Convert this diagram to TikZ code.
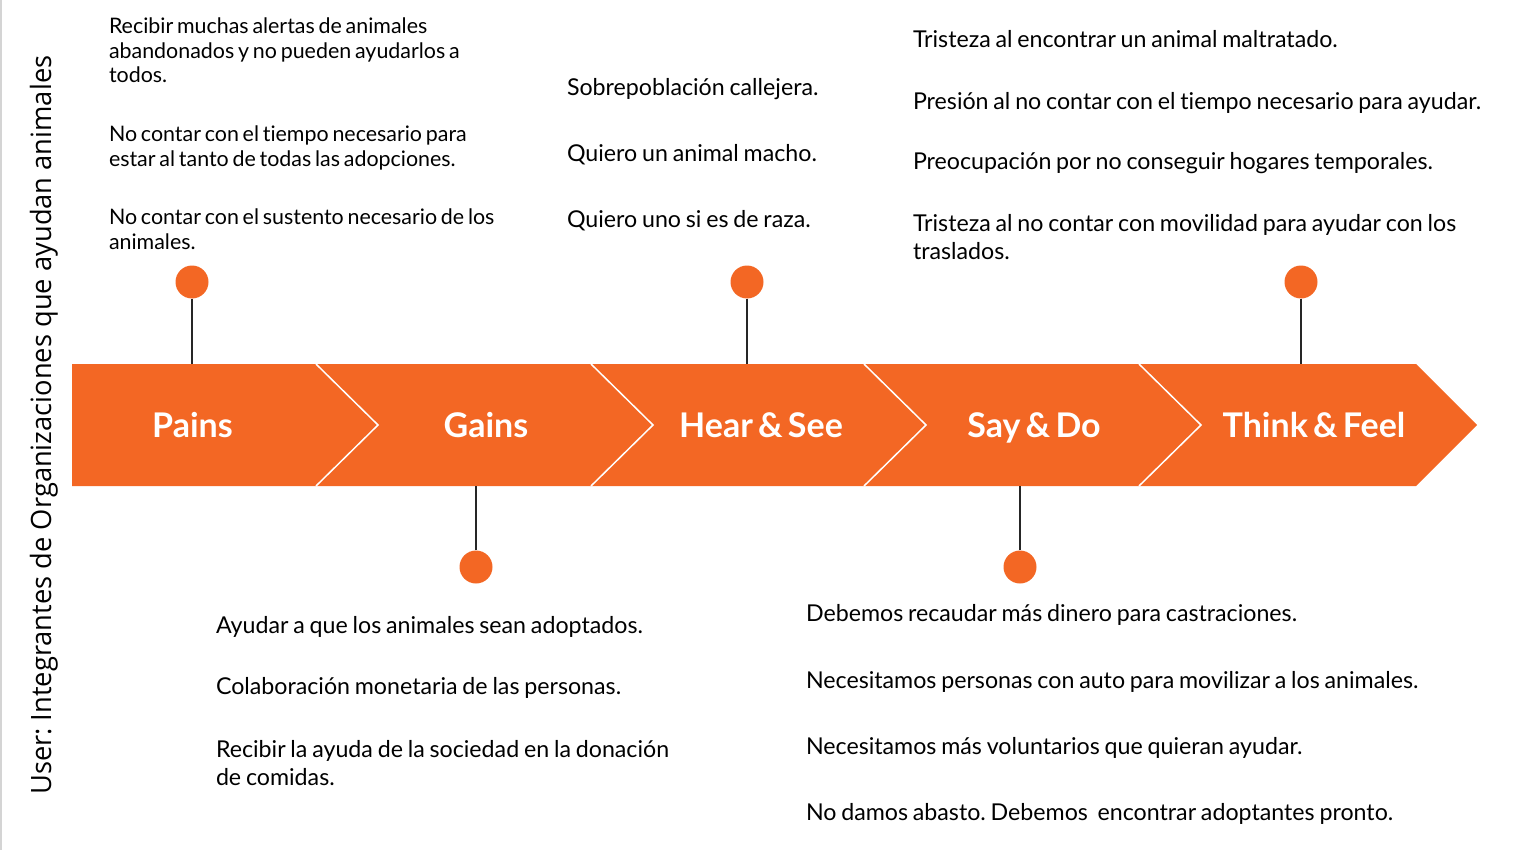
\documentclass[tikz,border=0pt]{standalone}
\usepackage{fontspec}
\setmainfont{Lato}[Ligatures=NoCommon]
\newfontfamily\vfont{Open Sans}
\definecolor{brand}{HTML}{F36724}
\definecolor{edge}{HTML}{D4D4D4}
\frenchspacing
\newcommand\myfontA{\fontsize{21.4}{24.5}\selectfont\spaceskip=3.8pt\relax}
\newcommand\myfontB{\fontsize{23.2}{28}\selectfont\spaceskip=4.8pt\relax}
\newcommand\myfontL{\bfseries\fontsize{34}{40}\selectfont\spaceskip=5.2pt\relax}
\begin{document}
\begin{tikzpicture}[x=1pt,y=-1pt,
  txt/.style={anchor=base west, inner sep=0pt, outer sep=0pt, align=flush left, text width=640pt},
  fa/.style={font=\myfontA},
  fb/.style={font=\myfontB},
  lab/.style={text=white, font=\myfontL, inner sep=0pt, anchor=base},
  pin/.style={circle, fill=brand, minimum size=33pt, inner sep=0pt},
  stem/.style={draw=black!85, line width=1.5pt},
  sep/.style={draw=white, line width=1.5pt}]
\useasboundingbox (0,0) rectangle (1514,850);
\draw[edge, line width=2pt] (1,0) -- (1,850);
% band
\fill[brand] (72,364) -- (1416,364) -- (1477,425) -- (1416,486) -- (72,486) -- cycle;
\foreach \x in {316,591,864,1139}{
  \draw[sep] (\x,364) -- (\x+62,425) -- (\x,486);
}
% labels
\node[lab] (pains) at (192.5,437) {Pains};
\node[lab] (gains) at (486,437) {Gains};
\node[lab] (hear) at (761,437) {Hear \& See};
\node[lab] (say) at (1034,437) {Say \& Do};
\node[lab] (think) at (1314,437) {Think \& Feel};
% pins
\node[pin] (p1) at (192,282) {};
\node[pin] (p2) at (476,567) {};
\node[pin] (p3) at (747,282) {};
\node[pin] (p4) at (1020,567) {};
\node[pin] (p5) at (1301,282) {};
\coordinate (b1) at (192,364);
\coordinate (b2) at (476,486);
\coordinate (b3) at (747,364);
\coordinate (b4) at (1020,486);
\coordinate (b5) at (1301,364);
\draw[stem] (p1) -- (b1);
\draw[stem] (p2) -- (b2);
\draw[stem] (p3) -- (b3);
\draw[stem] (p4) -- (b4);
\draw[stem] (p5) -- (b5);
% vertical title
\node[rotate=90, anchor=base west, inner sep=0pt] (user) at (51,795)
  {\vfont\fontsize{28}{30}\selectfont\scalebox{0.975}[1]{User: Integrantes de Organizaciones que ayudan animales}};
% Pains texts
\node[txt, fa] (a1) at (109,34) {Recibir muchas alertas de animales\\abandonados y no pueden ayudarlos a\\todos.};
\node[txt, fa] (a2) at (109,142) {No contar con el tiempo necesario para\\estar al tanto de todas las adopciones.};
\node[txt, fa] (a3) at (109,225) {No contar con el sustento necesario de los\\animales.};
% Hear & See texts
\node[txt, fb] (h1) at (567,96) {Sobrepoblación callejera.};
\node[txt, fb] (h2) at (567,162) {Quiero un animal macho.};
\node[txt, fb] (h3) at (567,228) {Quiero uno si es de raza.};
% Think & Feel texts
\node[txt, fb] (t1) at (913,47.5) {Tristeza al encontrar un animal maltratado.};
\node[txt, fb] (t2) at (913,110) {Presión al no contar con el tiempo necesario para ayudar.};
\node[txt, fb] (t3) at (913,170) {Preocupación por no conseguir hogares temporales.};
\node[txt, fb] (t4) at (913,232) {Tristeza al no contar con movilidad para ayudar con los\\traslados.};
% Gains texts
\node[txt, fb] (g1) at (216,633) {Ayudar a que los animales sean adoptados.};
\node[txt, fb] (g2) at (216,694) {Colaboración monetaria de las personas.};
\node[txt, fb] (g3) at (216,757) {Recibir la ayuda de la sociedad en la donación\\de comidas.};
% Say & Do texts
\node[txt, fb] (s1) at (806,621) {Debemos recaudar más dinero para castraciones.};
\node[txt, fb] (s2) at (806,688) {Necesitamos personas con auto para movilizar a los animales.};
\node[txt, fb] (s3) at (806,754) {Necesitamos más voluntarios que quieran ayudar.};
\node[txt, fb] (s4) at (806,820.5) {No damos abasto. Debemos~ encontrar adoptantes pronto.};
\end{tikzpicture}
\end{document}
